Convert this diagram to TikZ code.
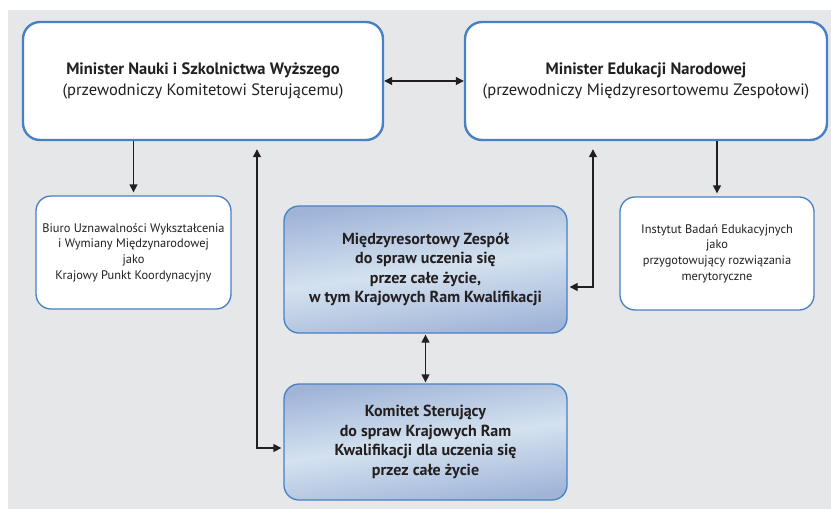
\documentclass[tikz,border=0pt]{standalone}
\usepackage{fontspec}
\setmainfont{PT Sans}
\usetikzlibrary{arrows.meta}
\definecolor{bgray}{RGB}{230,231,233}
\definecolor{bblue}{RGB}{72,128,196}
\definecolor{shadeA}{RGB}{160,180,216}
\definecolor{shadeB}{RGB}{212,226,239}
\definecolor{txt}{RGB}{35,31,32}
\tikzset{
  bigbox/.style={draw=bblue, line width=2.4pt, fill=white, rounded corners=17pt, align=center, text=txt, inner sep=0pt,
    font=\fontsize{16.5}{21}\selectfont},
  smallbox/.style={draw=bblue, line width=1.3pt, fill=white, rounded corners=15pt, align=center, text=txt, inner sep=0pt,
    font=\fontsize{12.4}{15.6}\selectfont},
  gradbox/.style={draw=bblue, line width=1.3pt, rounded corners=15pt, align=center, text=txt, inner sep=0pt,
    top color=shadeA, bottom color=shadeA, middle color=shadeB, shading angle=8,
    font=\bfseries\fontsize{16}{19.5}\selectfont},
  arr/.style={line width=1.3pt, draw=txt, -{Triangle[length=8pt,width=8pt]}},
  darr/.style={line width=1.3pt, draw=txt, {Triangle[length=8pt,width=8pt]}-{Triangle[length=8pt,width=8pt]}}
}
\begin{document}
\begin{tikzpicture}[x=1pt,y=-1pt]
\useasboundingbox (0,0) rectangle (831,509);
\fill[bgray] (8,10) rectangle (831,509);

\node[bigbox, minimum width=360pt, minimum height=118pt] (min1) at (203,81)
  {\textbf{Minister Nauki i Szkolnictwa Wyższego}\\
   (przewodniczy Komitetowi Sterującemu)};
\node[bigbox, minimum width=362pt, minimum height=118pt] (min2) at (646,81)
  {\textbf{Minister Edukacji Narodowej}\\
   (przewodniczy Międzyresortowemu Zespołowi)};

\node[smallbox, minimum width=195pt, minimum height=113pt] (biuro) at (133.5,252.5)
  {Biuro Uznawalności Wykształcenia\\ i Wymiany Międzynarodowej\\ jako\\ Krajowy Punkt Koordynacyjny};
\node[smallbox, minimum width=194pt, minimum height=113pt] (ibe) at (717,253.5)
  {Instytut Badań Edukacyjnych\\ jako\\ przygotowujący rozwiązania\\ merytoryczne};

\node[gradbox, minimum width=283pt, minimum height=127pt] (mz) at (425.5,269.5)
  {Międzyresortowy Zespół\\ do spraw uczenia się\\ przez całe życie,\\ w tym Krajowych Ram Kwalifikacji};
\node[gradbox, minimum width=283pt, minimum height=116pt] (kom) at (425.5,442)
  {Komitet Sterujący\\ do spraw Krajowych Ram\\ Kwalifikacji dla uczenia się\\ przez całe życie};

\coordinate (c1) at (257,0);
\coordinate (c2) at (593,0);

\draw[darr] (min1.east) -- (min2.west);
\draw[arr, shorten >=3pt] (biuro.north |- min1.south) -- (biuro.north);
\draw[arr, shorten >=3pt] (ibe.north |- min2.south) -- (ibe.north);
\draw[darr, shorten >=2pt] ([yshift=-8pt]min1.south -| c1) |- ([yshift=-6pt]kom.west);
\draw[darr, shorten >=2pt] ([yshift=-8pt]min2.south -| c2) |- ([yshift=-17.5pt]mz.east);
\draw[darr, shorten <=1pt, shorten >=1pt] (mz.south) -- (kom.north);
\end{tikzpicture}
\end{document}
